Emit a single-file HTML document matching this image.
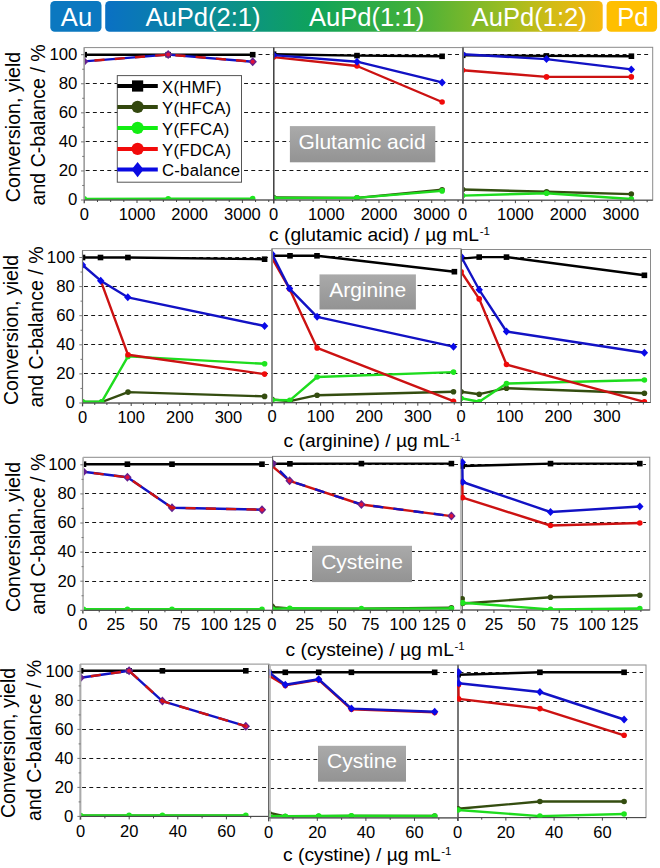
<!DOCTYPE html>
<html><head><meta charset="utf-8"><style>
html,body{margin:0;padding:0;background:#fff;}
svg{display:block;font-family:"Liberation Sans", sans-serif;}
</style></head><body>
<svg width="660" height="868" viewBox="0 0 660 868">
<rect width="660" height="868" fill="#fff"/>
<defs><linearGradient id="hg" x1="0" x2="1" y1="0" y2="0"><stop offset="0" stop-color="#0A70C4"/><stop offset="0.2" stop-color="#0A8A9A"/><stop offset="0.42" stop-color="#0FA35A"/><stop offset="0.6" stop-color="#3DAF3C"/><stop offset="0.8" stop-color="#98BC22"/><stop offset="0.9" stop-color="#D2BB16"/><stop offset="1" stop-color="#F8B80E"/></linearGradient><linearGradient id="gbox" x1="0" x2="0" y1="0" y2="1"><stop offset="0" stop-color="#AAAAAA"/><stop offset="1" stop-color="#939393"/></linearGradient></defs>
<rect x="50.3" y="1" width="51.2" height="30.8" rx="4.5" fill="#0B78C0"/>
<rect x="105.2" y="1" width="497.5" height="30.8" rx="4.5" fill="url(#hg)"/>
<rect x="606.6" y="1" width="50.5" height="30.8" rx="4.5" fill="#FFBF00"/>
<text transform="translate(76.5,25.6) scale(1.0,1)" font-size="25.6" text-anchor="middle" fill="#fff" >Au</text>
<text transform="translate(203,25.6) scale(1.0,1)" font-size="25.6" text-anchor="middle" fill="#fff" >AuPd(2:1)</text>
<text transform="translate(366.6,25.6) scale(1.0,1)" font-size="25.6" text-anchor="middle" fill="#fff" >AuPd(1:1)</text>
<text transform="translate(529.2,25.6) scale(1.0,1)" font-size="25.6" text-anchor="middle" fill="#fff" >AuPd(1:2)</text>
<text transform="translate(632.8,25.6) scale(1.0,1)" font-size="25.6" text-anchor="middle" fill="#fff" >Pd</text>
<line x1="84.2" y1="170.5" x2="273.6" y2="170.5" stroke="#161616" stroke-width="1.15" stroke-dasharray="3.9 3.3" stroke-dashoffset="-1.5"/>
<line x1="84.2" y1="141.5" x2="273.6" y2="141.5" stroke="#161616" stroke-width="1.15" stroke-dasharray="3.9 3.3" stroke-dashoffset="-1.5"/>
<line x1="84.2" y1="112.5" x2="273.6" y2="112.5" stroke="#161616" stroke-width="1.15" stroke-dasharray="3.9 3.3" stroke-dashoffset="-1.5"/>
<line x1="84.2" y1="83.5" x2="273.6" y2="83.5" stroke="#161616" stroke-width="1.15" stroke-dasharray="3.9 3.3" stroke-dashoffset="-1.5"/>
<line x1="84.2" y1="54.5" x2="273.6" y2="54.5" stroke="#161616" stroke-width="1.15" stroke-dasharray="3.9 3.3" stroke-dashoffset="-1.5"/>
<clipPath id="c1"><rect x="84.2" y="47.6" width="189.4" height="152.4"/></clipPath>
<g clip-path="url(#c1)">
<polyline points="84.2,54.7 168.2,54.7 252.7,54.7" fill="none" stroke="#000000" stroke-width="2.4" stroke-linejoin="round"/>
<rect x="81.4" y="51.9" width="5.6" height="5.6" fill="#000"/>
<rect x="165.4" y="51.9" width="5.6" height="5.6" fill="#000"/>
<rect x="249.9" y="51.9" width="5.6" height="5.6" fill="#000"/>
<polyline points="84.2,199.3 168.2,199.3 252.7,199.3" fill="none" stroke="#344D10" stroke-width="2.4" stroke-linejoin="round"/>
<polyline points="84.2,198.9 168.2,198.8 252.7,198.6" fill="none" stroke="#1EDC1E" stroke-width="2.4" stroke-linejoin="round"/>
<circle cx="84.2" cy="198.9" r="2.8" fill="#1EE61E"/>
<circle cx="168.2" cy="198.8" r="2.8" fill="#1EE61E"/>
<circle cx="252.7" cy="198.6" r="2.8" fill="#1EE61E"/>
<polyline points="84.2,61.4 168.2,54.6 252.7,61.7" fill="none" stroke="#1212C4" stroke-width="2.4" stroke-linejoin="round"/>
<path d="M84.2 56.9L88.4 61.4L84.2 65.9L80 61.4Z" fill="#64208e"/>
<path d="M168.2 50.1L172.4 54.6L168.2 59.1L164 54.6Z" fill="#64208e"/>
<circle cx="168.2" cy="54.6" r="2.0" fill="#e0103a"/>
<path d="M252.7 57.2L256.9 61.7L252.7 66.2L248.5 61.7Z" fill="#64208e"/>
<circle cx="252.7" cy="61.7" r="2.0" fill="#e0103a"/>
<polyline points="84.2,61.4 168.2,54.6 252.7,61.7" fill="none" stroke="#CC1212" stroke-width="2.4" stroke-linejoin="round" stroke-dasharray="10.1 10.2" stroke-dashoffset="10"/>
</g>
<rect x="84.2" y="47.6" width="189.4" height="152.4" fill="none" stroke="#8a8a8a" stroke-width="1"/>
<line x1="84.2" y1="47.6" x2="84.2" y2="203.5" stroke="#a0a0a0" stroke-width="1.4"/>
<line x1="84.2" y1="200" x2="273.6" y2="200" stroke="#444" stroke-width="1"/>
<line x1="84.3" y1="200" x2="84.3" y2="203" stroke="#444" stroke-width="1"/>
<line x1="97.47" y1="200" x2="97.47" y2="202" stroke="#444" stroke-width="1"/>
<line x1="110.65" y1="200" x2="110.65" y2="202" stroke="#444" stroke-width="1"/>
<line x1="123.82" y1="200" x2="123.82" y2="202" stroke="#444" stroke-width="1"/>
<line x1="137" y1="200" x2="137" y2="203" stroke="#444" stroke-width="1"/>
<line x1="150.18" y1="200" x2="150.18" y2="202" stroke="#444" stroke-width="1"/>
<line x1="163.35" y1="200" x2="163.35" y2="202" stroke="#444" stroke-width="1"/>
<line x1="176.52" y1="200" x2="176.52" y2="202" stroke="#444" stroke-width="1"/>
<line x1="189.7" y1="200" x2="189.7" y2="203" stroke="#444" stroke-width="1"/>
<line x1="202.88" y1="200" x2="202.88" y2="202" stroke="#444" stroke-width="1"/>
<line x1="216.05" y1="200" x2="216.05" y2="202" stroke="#444" stroke-width="1"/>
<line x1="229.22" y1="200" x2="229.22" y2="202" stroke="#444" stroke-width="1"/>
<line x1="242.4" y1="200" x2="242.4" y2="203" stroke="#444" stroke-width="1"/>
<line x1="255.57" y1="200" x2="255.57" y2="202" stroke="#444" stroke-width="1"/>
<line x1="268.75" y1="200" x2="268.75" y2="202" stroke="#444" stroke-width="1"/>
<text transform="translate(84.3,219.7) scale(1.0,1)" font-size="16.5" text-anchor="middle" fill="#000" >0</text>
<text transform="translate(137,219.7) scale(1.0,1)" font-size="16.5" text-anchor="middle" fill="#000" >1000</text>
<text transform="translate(189.7,219.7) scale(1.0,1)" font-size="16.5" text-anchor="middle" fill="#000" >2000</text>
<text transform="translate(242.4,219.7) scale(1.0,1)" font-size="16.5" text-anchor="middle" fill="#000" >3000</text>
<line x1="81" y1="200" x2="84.2" y2="200" stroke="#777" stroke-width="1"/>
<line x1="82.2" y1="185.47" x2="84.2" y2="185.47" stroke="#777" stroke-width="1"/>
<line x1="81" y1="170.94" x2="84.2" y2="170.94" stroke="#777" stroke-width="1"/>
<line x1="82.2" y1="156.41" x2="84.2" y2="156.41" stroke="#777" stroke-width="1"/>
<line x1="81" y1="141.88" x2="84.2" y2="141.88" stroke="#777" stroke-width="1"/>
<line x1="82.2" y1="127.35" x2="84.2" y2="127.35" stroke="#777" stroke-width="1"/>
<line x1="81" y1="112.82" x2="84.2" y2="112.82" stroke="#777" stroke-width="1"/>
<line x1="82.2" y1="98.29" x2="84.2" y2="98.29" stroke="#777" stroke-width="1"/>
<line x1="81" y1="83.76" x2="84.2" y2="83.76" stroke="#777" stroke-width="1"/>
<line x1="82.2" y1="69.23" x2="84.2" y2="69.23" stroke="#777" stroke-width="1"/>
<line x1="81" y1="54.7" x2="84.2" y2="54.7" stroke="#777" stroke-width="1"/>
<text transform="translate(77.4,205.3) scale(1.0,1)" font-size="16.8" text-anchor="end" fill="#000" >0</text>
<text transform="translate(77.4,176.24) scale(1.0,1)" font-size="16.8" text-anchor="end" fill="#000" >20</text>
<text transform="translate(77.4,147.18) scale(1.0,1)" font-size="16.8" text-anchor="end" fill="#000" >40</text>
<text transform="translate(77.4,118.12) scale(1.0,1)" font-size="16.8" text-anchor="end" fill="#000" >60</text>
<text transform="translate(77.4,89.06) scale(1.0,1)" font-size="16.8" text-anchor="end" fill="#000" >80</text>
<text transform="translate(77.4,60) scale(1.0,1)" font-size="16.8" text-anchor="end" fill="#000" >100</text>
<line x1="273.6" y1="170.5" x2="463" y2="170.5" stroke="#161616" stroke-width="1.15" stroke-dasharray="3.9 3.3" stroke-dashoffset="-1.5"/>
<line x1="273.6" y1="141.5" x2="463" y2="141.5" stroke="#161616" stroke-width="1.15" stroke-dasharray="3.9 3.3" stroke-dashoffset="-1.5"/>
<line x1="273.6" y1="112.5" x2="463" y2="112.5" stroke="#161616" stroke-width="1.15" stroke-dasharray="3.9 3.3" stroke-dashoffset="-1.5"/>
<line x1="273.6" y1="83.5" x2="463" y2="83.5" stroke="#161616" stroke-width="1.15" stroke-dasharray="3.9 3.3" stroke-dashoffset="-1.5"/>
<line x1="273.6" y1="54.5" x2="463" y2="54.5" stroke="#161616" stroke-width="1.15" stroke-dasharray="3.9 3.3" stroke-dashoffset="-1.5"/>
<clipPath id="c2"><rect x="273.6" y="47.6" width="189.4" height="152.4"/></clipPath>
<g clip-path="url(#c2)">
<polyline points="273.6,54.2 357,55.6 442.1,56.3" fill="none" stroke="#000000" stroke-width="2.4" stroke-linejoin="round"/>
<rect x="270.8" y="51.4" width="5.6" height="5.6" fill="#000"/>
<rect x="354.2" y="52.8" width="5.6" height="5.6" fill="#000"/>
<rect x="439.3" y="53.5" width="5.6" height="5.6" fill="#000"/>
<polyline points="273.6,197.5 357,197.9 442.1,189.8" fill="none" stroke="#344D10" stroke-width="2.4" stroke-linejoin="round"/>
<circle cx="273.6" cy="197.5" r="2.8" fill="#344D10"/>
<circle cx="357" cy="197.9" r="2.8" fill="#344D10"/>
<circle cx="442.1" cy="189.8" r="2.8" fill="#344D10"/>
<polyline points="273.6,198 357,197.9 442.1,190.9" fill="none" stroke="#1EDC1E" stroke-width="2.4" stroke-linejoin="round"/>
<circle cx="273.6" cy="198" r="2.8" fill="#1EE61E"/>
<circle cx="357" cy="197.9" r="2.8" fill="#1EE61E"/>
<circle cx="442.1" cy="190.9" r="2.8" fill="#1EE61E"/>
<polyline points="273.6,57.1 357,66 442.1,102" fill="none" stroke="#CC1212" stroke-width="2.4" stroke-linejoin="round"/>
<circle cx="273.6" cy="57.1" r="2.8" fill="#F00A0A"/>
<circle cx="357" cy="66" r="2.8" fill="#F00A0A"/>
<circle cx="442.1" cy="102" r="2.8" fill="#F00A0A"/>
<polyline points="273.6,55.1 357,61.7 442.1,82.4" fill="none" stroke="#1212C4" stroke-width="2.4" stroke-linejoin="round"/>
<path d="M273.6 51.1L277.3 55.1L273.6 59.1L269.9 55.1Z" fill="#0A0AE8"/>
<path d="M357 57.7L360.7 61.7L357 65.7L353.3 61.7Z" fill="#0A0AE8"/>
<path d="M442.1 78.4L445.8 82.4L442.1 86.4L438.4 82.4Z" fill="#0A0AE8"/>
</g>
<rect x="273.6" y="47.6" width="189.4" height="152.4" fill="none" stroke="#8a8a8a" stroke-width="1"/>
<line x1="273.75" y1="47.6" x2="273.75" y2="203.5" stroke="#444" stroke-width="1.5"/>
<line x1="273.6" y1="200" x2="463" y2="200" stroke="#444" stroke-width="1"/>
<line x1="273.6" y1="200" x2="273.6" y2="203" stroke="#444" stroke-width="1"/>
<line x1="286.78" y1="200" x2="286.78" y2="202" stroke="#444" stroke-width="1"/>
<line x1="299.95" y1="200" x2="299.95" y2="202" stroke="#444" stroke-width="1"/>
<line x1="313.12" y1="200" x2="313.12" y2="202" stroke="#444" stroke-width="1"/>
<line x1="326.3" y1="200" x2="326.3" y2="203" stroke="#444" stroke-width="1"/>
<line x1="339.48" y1="200" x2="339.48" y2="202" stroke="#444" stroke-width="1"/>
<line x1="352.65" y1="200" x2="352.65" y2="202" stroke="#444" stroke-width="1"/>
<line x1="365.83" y1="200" x2="365.83" y2="202" stroke="#444" stroke-width="1"/>
<line x1="379" y1="200" x2="379" y2="203" stroke="#444" stroke-width="1"/>
<line x1="392.18" y1="200" x2="392.18" y2="202" stroke="#444" stroke-width="1"/>
<line x1="405.35" y1="200" x2="405.35" y2="202" stroke="#444" stroke-width="1"/>
<line x1="418.52" y1="200" x2="418.52" y2="202" stroke="#444" stroke-width="1"/>
<line x1="431.7" y1="200" x2="431.7" y2="203" stroke="#444" stroke-width="1"/>
<line x1="444.88" y1="200" x2="444.88" y2="202" stroke="#444" stroke-width="1"/>
<line x1="458.05" y1="200" x2="458.05" y2="202" stroke="#444" stroke-width="1"/>
<text transform="translate(273.6,219.7) scale(1.0,1)" font-size="16.5" text-anchor="middle" fill="#000" >0</text>
<text transform="translate(326.3,219.7) scale(1.0,1)" font-size="16.5" text-anchor="middle" fill="#000" >1000</text>
<text transform="translate(379,219.7) scale(1.0,1)" font-size="16.5" text-anchor="middle" fill="#000" >2000</text>
<text transform="translate(431.7,219.7) scale(1.0,1)" font-size="16.5" text-anchor="middle" fill="#000" >3000</text>
<line x1="462.7" y1="171.5" x2="648.5" y2="171.5" stroke="#161616" stroke-width="1.15" stroke-dasharray="3.9 3.3" stroke-dashoffset="-1.5"/>
<line x1="462.7" y1="142.5" x2="648.5" y2="142.5" stroke="#161616" stroke-width="1.15" stroke-dasharray="3.9 3.3" stroke-dashoffset="-1.5"/>
<line x1="462.7" y1="112.5" x2="648.5" y2="112.5" stroke="#161616" stroke-width="1.15" stroke-dasharray="3.9 3.3" stroke-dashoffset="-1.5"/>
<line x1="462.7" y1="83.5" x2="648.5" y2="83.5" stroke="#161616" stroke-width="1.15" stroke-dasharray="3.9 3.3" stroke-dashoffset="-1.5"/>
<line x1="462.7" y1="54.5" x2="648.5" y2="54.5" stroke="#161616" stroke-width="1.15" stroke-dasharray="3.9 3.3" stroke-dashoffset="-1.5"/>
<clipPath id="c3"><rect x="462.7" y="47.3" width="190" height="152.9"/></clipPath>
<g clip-path="url(#c3)">
<polyline points="462.7,55.3 546.4,55.9 631.4,56.2" fill="none" stroke="#000000" stroke-width="2.4" stroke-linejoin="round"/>
<rect x="459.9" y="52.5" width="5.6" height="5.6" fill="#000"/>
<rect x="543.6" y="53.1" width="5.6" height="5.6" fill="#000"/>
<rect x="628.6" y="53.4" width="5.6" height="5.6" fill="#000"/>
<polyline points="462.7,189.5 546.6,191.7 631.3,194.1" fill="none" stroke="#344D10" stroke-width="2.4" stroke-linejoin="round"/>
<circle cx="462.7" cy="189.5" r="2.8" fill="#344D10"/>
<circle cx="546.6" cy="191.7" r="2.8" fill="#344D10"/>
<circle cx="631.3" cy="194.1" r="2.8" fill="#344D10"/>
<polyline points="462.7,195.6 546.6,193.2 631.3,199" fill="none" stroke="#1EDC1E" stroke-width="2.4" stroke-linejoin="round"/>
<circle cx="462.7" cy="195.6" r="2.8" fill="#1EE61E"/>
<circle cx="546.6" cy="193.2" r="2.8" fill="#1EE61E"/>
<circle cx="631.3" cy="199" r="2.8" fill="#1EE61E"/>
<polyline points="462.7,70.2 546.5,76.9 631.3,76.9" fill="none" stroke="#CC1212" stroke-width="2.4" stroke-linejoin="round"/>
<circle cx="462.7" cy="70.2" r="2.8" fill="#F00A0A"/>
<circle cx="546.5" cy="76.9" r="2.8" fill="#F00A0A"/>
<circle cx="631.3" cy="76.9" r="2.8" fill="#F00A0A"/>
<polyline points="462.7,54.3 546.5,59.1 631.3,69.4" fill="none" stroke="#1212C4" stroke-width="2.4" stroke-linejoin="round"/>
<path d="M462.7 50.3L466.4 54.3L462.7 58.3L459 54.3Z" fill="#0A0AE8"/>
<path d="M546.5 55.1L550.2 59.1L546.5 63.1L542.8 59.1Z" fill="#0A0AE8"/>
<path d="M631.3 65.4L635 69.4L631.3 73.4L627.6 69.4Z" fill="#0A0AE8"/>
</g>
<rect x="462.7" y="47.3" width="190" height="152.9" fill="none" stroke="#8a8a8a" stroke-width="1"/>
<line x1="463" y1="47.3" x2="463" y2="203.7" stroke="#6a6a6a" stroke-width="1.8"/>
<line x1="462.7" y1="200.2" x2="652.7" y2="200.2" stroke="#444" stroke-width="1"/>
<line x1="462.7" y1="200.2" x2="462.7" y2="203.2" stroke="#444" stroke-width="1"/>
<line x1="475.88" y1="200.2" x2="475.88" y2="202.2" stroke="#444" stroke-width="1"/>
<line x1="489.05" y1="200.2" x2="489.05" y2="202.2" stroke="#444" stroke-width="1"/>
<line x1="502.22" y1="200.2" x2="502.22" y2="202.2" stroke="#444" stroke-width="1"/>
<line x1="515.4" y1="200.2" x2="515.4" y2="203.2" stroke="#444" stroke-width="1"/>
<line x1="528.58" y1="200.2" x2="528.58" y2="202.2" stroke="#444" stroke-width="1"/>
<line x1="541.75" y1="200.2" x2="541.75" y2="202.2" stroke="#444" stroke-width="1"/>
<line x1="554.92" y1="200.2" x2="554.92" y2="202.2" stroke="#444" stroke-width="1"/>
<line x1="568.1" y1="200.2" x2="568.1" y2="203.2" stroke="#444" stroke-width="1"/>
<line x1="581.27" y1="200.2" x2="581.27" y2="202.2" stroke="#444" stroke-width="1"/>
<line x1="594.45" y1="200.2" x2="594.45" y2="202.2" stroke="#444" stroke-width="1"/>
<line x1="607.62" y1="200.2" x2="607.62" y2="202.2" stroke="#444" stroke-width="1"/>
<line x1="620.8" y1="200.2" x2="620.8" y2="203.2" stroke="#444" stroke-width="1"/>
<line x1="633.97" y1="200.2" x2="633.97" y2="202.2" stroke="#444" stroke-width="1"/>
<line x1="647.15" y1="200.2" x2="647.15" y2="202.2" stroke="#444" stroke-width="1"/>
<text transform="translate(462.7,219.9) scale(1.0,1)" font-size="16.5" text-anchor="middle" fill="#000" >0</text>
<text transform="translate(515.4,219.9) scale(1.0,1)" font-size="16.5" text-anchor="middle" fill="#000" >1000</text>
<text transform="translate(568.1,219.9) scale(1.0,1)" font-size="16.5" text-anchor="middle" fill="#000" >2000</text>
<text transform="translate(620.8,219.9) scale(1.0,1)" font-size="16.5" text-anchor="middle" fill="#000" >3000</text>
<line x1="82.5" y1="373.5" x2="272" y2="373.5" stroke="#161616" stroke-width="1.15" stroke-dasharray="3.9 3.3" stroke-dashoffset="-1.5"/>
<line x1="82.5" y1="344.5" x2="272" y2="344.5" stroke="#161616" stroke-width="1.15" stroke-dasharray="3.9 3.3" stroke-dashoffset="-1.5"/>
<line x1="82.5" y1="315.5" x2="272" y2="315.5" stroke="#161616" stroke-width="1.15" stroke-dasharray="3.9 3.3" stroke-dashoffset="-1.5"/>
<line x1="82.5" y1="286.5" x2="272" y2="286.5" stroke="#161616" stroke-width="1.15" stroke-dasharray="3.9 3.3" stroke-dashoffset="-1.5"/>
<line x1="82.5" y1="257.5" x2="272" y2="257.5" stroke="#161616" stroke-width="1.15" stroke-dasharray="3.9 3.3" stroke-dashoffset="-1.5"/>
<clipPath id="c4"><rect x="82.5" y="250.5" width="189.5" height="152.5"/></clipPath>
<g clip-path="url(#c4)">
<polyline points="82.5,257.5 100.5,257.5 127.9,257.5 264.6,259.2" fill="none" stroke="#000000" stroke-width="2.4" stroke-linejoin="round"/>
<rect x="79.7" y="254.7" width="5.6" height="5.6" fill="#000"/>
<rect x="97.7" y="254.7" width="5.6" height="5.6" fill="#000"/>
<rect x="125.1" y="254.7" width="5.6" height="5.6" fill="#000"/>
<rect x="261.8" y="256.4" width="5.6" height="5.6" fill="#000"/>
<polyline points="82.5,402 101.7,402 128,392.1 264.6,396.4" fill="none" stroke="#344D10" stroke-width="2.4" stroke-linejoin="round"/>
<circle cx="82.5" cy="402" r="2.8" fill="#344D10"/>
<circle cx="101.7" cy="402" r="2.8" fill="#344D10"/>
<circle cx="128" cy="392.1" r="2.8" fill="#344D10"/>
<circle cx="264.6" cy="396.4" r="2.8" fill="#344D10"/>
<polyline points="82.5,401.8 101.7,401.8 128,356.4 264.6,363.8" fill="none" stroke="#1EDC1E" stroke-width="2.4" stroke-linejoin="round"/>
<circle cx="82.5" cy="401.8" r="2.8" fill="#1EE61E"/>
<circle cx="101.7" cy="401.8" r="2.8" fill="#1EE61E"/>
<circle cx="128" cy="356.4" r="2.8" fill="#1EE61E"/>
<circle cx="264.6" cy="363.8" r="2.8" fill="#1EE61E"/>
<polyline points="100.7,280.7 128,354.8 264.6,374.1" fill="none" stroke="#CC1212" stroke-width="2.4" stroke-linejoin="round"/>
<circle cx="128" cy="354.8" r="2.8" fill="#F00A0A"/>
<circle cx="264.6" cy="374.1" r="2.8" fill="#F00A0A"/>
<polyline points="82.5,265 100.7,280.7 127.8,297.3 264.6,326" fill="none" stroke="#1212C4" stroke-width="2.4" stroke-linejoin="round"/>
<path d="M82.5 261L86.2 265L82.5 269L78.8 265Z" fill="#0A0AE8"/>
<path d="M100.7 276.7L104.4 280.7L100.7 284.7L97 280.7Z" fill="#0A0AE8"/>
<path d="M127.8 293.3L131.5 297.3L127.8 301.3L124.1 297.3Z" fill="#0A0AE8"/>
<path d="M264.6 322L268.3 326L264.6 330L260.9 326Z" fill="#0A0AE8"/>
</g>
<rect x="82.5" y="250.5" width="189.5" height="152.5" fill="none" stroke="#8a8a8a" stroke-width="1"/>
<line x1="82.5" y1="250.5" x2="82.5" y2="406.5" stroke="#777" stroke-width="1.2"/>
<line x1="82.5" y1="403" x2="272" y2="403" stroke="#444" stroke-width="1"/>
<line x1="82.6" y1="403" x2="82.6" y2="406" stroke="#444" stroke-width="1"/>
<line x1="94.75" y1="403" x2="94.75" y2="405" stroke="#444" stroke-width="1"/>
<line x1="106.9" y1="403" x2="106.9" y2="405" stroke="#444" stroke-width="1"/>
<line x1="119.05" y1="403" x2="119.05" y2="405" stroke="#444" stroke-width="1"/>
<line x1="131.2" y1="403" x2="131.2" y2="406" stroke="#444" stroke-width="1"/>
<line x1="143.35" y1="403" x2="143.35" y2="405" stroke="#444" stroke-width="1"/>
<line x1="155.5" y1="403" x2="155.5" y2="405" stroke="#444" stroke-width="1"/>
<line x1="167.65" y1="403" x2="167.65" y2="405" stroke="#444" stroke-width="1"/>
<line x1="179.8" y1="403" x2="179.8" y2="406" stroke="#444" stroke-width="1"/>
<line x1="191.95" y1="403" x2="191.95" y2="405" stroke="#444" stroke-width="1"/>
<line x1="204.1" y1="403" x2="204.1" y2="405" stroke="#444" stroke-width="1"/>
<line x1="216.25" y1="403" x2="216.25" y2="405" stroke="#444" stroke-width="1"/>
<line x1="228.4" y1="403" x2="228.4" y2="406" stroke="#444" stroke-width="1"/>
<line x1="240.55" y1="403" x2="240.55" y2="405" stroke="#444" stroke-width="1"/>
<line x1="252.7" y1="403" x2="252.7" y2="405" stroke="#444" stroke-width="1"/>
<line x1="264.85" y1="403" x2="264.85" y2="405" stroke="#444" stroke-width="1"/>
<text transform="translate(82.6,422.7) scale(1.0,1)" font-size="16.5" text-anchor="middle" fill="#000" >0</text>
<text transform="translate(131.2,422.7) scale(1.0,1)" font-size="16.5" text-anchor="middle" fill="#000" >100</text>
<text transform="translate(179.8,422.7) scale(1.0,1)" font-size="16.5" text-anchor="middle" fill="#000" >200</text>
<text transform="translate(228.4,422.7) scale(1.0,1)" font-size="16.5" text-anchor="middle" fill="#000" >300</text>
<line x1="79.3" y1="403" x2="82.5" y2="403" stroke="#777" stroke-width="1"/>
<line x1="80.5" y1="388.45" x2="82.5" y2="388.45" stroke="#777" stroke-width="1"/>
<line x1="79.3" y1="373.9" x2="82.5" y2="373.9" stroke="#777" stroke-width="1"/>
<line x1="80.5" y1="359.35" x2="82.5" y2="359.35" stroke="#777" stroke-width="1"/>
<line x1="79.3" y1="344.8" x2="82.5" y2="344.8" stroke="#777" stroke-width="1"/>
<line x1="80.5" y1="330.25" x2="82.5" y2="330.25" stroke="#777" stroke-width="1"/>
<line x1="79.3" y1="315.7" x2="82.5" y2="315.7" stroke="#777" stroke-width="1"/>
<line x1="80.5" y1="301.15" x2="82.5" y2="301.15" stroke="#777" stroke-width="1"/>
<line x1="79.3" y1="286.6" x2="82.5" y2="286.6" stroke="#777" stroke-width="1"/>
<line x1="80.5" y1="272.05" x2="82.5" y2="272.05" stroke="#777" stroke-width="1"/>
<line x1="79.3" y1="257.5" x2="82.5" y2="257.5" stroke="#777" stroke-width="1"/>
<text transform="translate(74.8,408.3) scale(1.0,1)" font-size="16.8" text-anchor="end" fill="#000" >0</text>
<text transform="translate(74.8,379.2) scale(1.0,1)" font-size="16.8" text-anchor="end" fill="#000" >20</text>
<text transform="translate(74.8,350.1) scale(1.0,1)" font-size="16.8" text-anchor="end" fill="#000" >40</text>
<text transform="translate(74.8,321) scale(1.0,1)" font-size="16.8" text-anchor="end" fill="#000" >60</text>
<text transform="translate(74.8,291.9) scale(1.0,1)" font-size="16.8" text-anchor="end" fill="#000" >80</text>
<text transform="translate(74.8,262.8) scale(1.0,1)" font-size="16.8" text-anchor="end" fill="#000" >100</text>
<line x1="272" y1="373.5" x2="461.1" y2="373.5" stroke="#161616" stroke-width="1.15" stroke-dasharray="3.9 3.3" stroke-dashoffset="-1.5"/>
<line x1="272" y1="344.5" x2="461.1" y2="344.5" stroke="#161616" stroke-width="1.15" stroke-dasharray="3.9 3.3" stroke-dashoffset="-1.5"/>
<line x1="272" y1="314.5" x2="461.1" y2="314.5" stroke="#161616" stroke-width="1.15" stroke-dasharray="3.9 3.3" stroke-dashoffset="-1.5"/>
<line x1="272" y1="285.5" x2="461.1" y2="285.5" stroke="#161616" stroke-width="1.15" stroke-dasharray="3.9 3.3" stroke-dashoffset="-1.5"/>
<line x1="272" y1="256.5" x2="461.1" y2="256.5" stroke="#161616" stroke-width="1.15" stroke-dasharray="3.9 3.3" stroke-dashoffset="-1.5"/>
<clipPath id="c5"><rect x="272" y="248.7" width="189.1" height="154"/></clipPath>
<g clip-path="url(#c5)">
<polyline points="272,255.8 290,255.8 317,255.8 454.4,271.7" fill="none" stroke="#000000" stroke-width="2.4" stroke-linejoin="round"/>
<rect x="269.2" y="253" width="5.6" height="5.6" fill="#000"/>
<rect x="287.2" y="253" width="5.6" height="5.6" fill="#000"/>
<rect x="314.2" y="253" width="5.6" height="5.6" fill="#000"/>
<rect x="451.6" y="268.9" width="5.6" height="5.6" fill="#000"/>
<polyline points="272,399.4 289.8,401.2 317.1,395.2 453.5,391.8" fill="none" stroke="#344D10" stroke-width="2.4" stroke-linejoin="round"/>
<circle cx="272" cy="399.4" r="2.8" fill="#344D10"/>
<circle cx="289.8" cy="401.2" r="2.8" fill="#344D10"/>
<circle cx="317.1" cy="395.2" r="2.8" fill="#344D10"/>
<circle cx="453.5" cy="391.8" r="2.8" fill="#344D10"/>
<polyline points="272,400 289.8,400.3 317.1,377 453.5,372.1" fill="none" stroke="#1EDC1E" stroke-width="2.4" stroke-linejoin="round"/>
<circle cx="272" cy="400" r="2.8" fill="#1EE61E"/>
<circle cx="289.8" cy="400.3" r="2.8" fill="#1EE61E"/>
<circle cx="317.1" cy="377" r="2.8" fill="#1EE61E"/>
<circle cx="453.5" cy="372.1" r="2.8" fill="#1EE61E"/>
<polyline points="272,258 289.6,289 317.1,347.9 453.5,401.2" fill="none" stroke="#CC1212" stroke-width="2.4" stroke-linejoin="round"/>
<circle cx="272" cy="258" r="2.8" fill="#F00A0A"/>
<circle cx="289.6" cy="289" r="2.8" fill="#F00A0A"/>
<circle cx="317.1" cy="347.9" r="2.8" fill="#F00A0A"/>
<circle cx="453.5" cy="401.2" r="2.8" fill="#F00A0A"/>
<polyline points="272,253.9 289.5,288.6 317.1,316.8 453.5,346.7" fill="none" stroke="#1212C4" stroke-width="2.4" stroke-linejoin="round"/>
<path d="M272 249.9L275.7 253.9L272 257.9L268.3 253.9Z" fill="#0A0AE8"/>
<path d="M289.5 284.6L293.2 288.6L289.5 292.6L285.8 288.6Z" fill="#0A0AE8"/>
<path d="M317.1 312.8L320.8 316.8L317.1 320.8L313.4 316.8Z" fill="#0A0AE8"/>
<path d="M453.5 342.7L457.2 346.7L453.5 350.7L449.8 346.7Z" fill="#0A0AE8"/>
</g>
<rect x="272" y="248.7" width="189.1" height="154" fill="none" stroke="#8a8a8a" stroke-width="1"/>
<line x1="272" y1="248.7" x2="272" y2="406.2" stroke="#888" stroke-width="1.8"/>
<line x1="272" y1="402.7" x2="461.1" y2="402.7" stroke="#444" stroke-width="1"/>
<line x1="272" y1="402.7" x2="272" y2="405.7" stroke="#444" stroke-width="1"/>
<line x1="284.15" y1="402.7" x2="284.15" y2="404.7" stroke="#444" stroke-width="1"/>
<line x1="296.3" y1="402.7" x2="296.3" y2="404.7" stroke="#444" stroke-width="1"/>
<line x1="308.45" y1="402.7" x2="308.45" y2="404.7" stroke="#444" stroke-width="1"/>
<line x1="320.6" y1="402.7" x2="320.6" y2="405.7" stroke="#444" stroke-width="1"/>
<line x1="332.75" y1="402.7" x2="332.75" y2="404.7" stroke="#444" stroke-width="1"/>
<line x1="344.9" y1="402.7" x2="344.9" y2="404.7" stroke="#444" stroke-width="1"/>
<line x1="357.05" y1="402.7" x2="357.05" y2="404.7" stroke="#444" stroke-width="1"/>
<line x1="369.2" y1="402.7" x2="369.2" y2="405.7" stroke="#444" stroke-width="1"/>
<line x1="381.35" y1="402.7" x2="381.35" y2="404.7" stroke="#444" stroke-width="1"/>
<line x1="393.5" y1="402.7" x2="393.5" y2="404.7" stroke="#444" stroke-width="1"/>
<line x1="405.65" y1="402.7" x2="405.65" y2="404.7" stroke="#444" stroke-width="1"/>
<line x1="417.8" y1="402.7" x2="417.8" y2="405.7" stroke="#444" stroke-width="1"/>
<line x1="429.95" y1="402.7" x2="429.95" y2="404.7" stroke="#444" stroke-width="1"/>
<line x1="442.1" y1="402.7" x2="442.1" y2="404.7" stroke="#444" stroke-width="1"/>
<line x1="454.25" y1="402.7" x2="454.25" y2="404.7" stroke="#444" stroke-width="1"/>
<text transform="translate(272,422.4) scale(1.0,1)" font-size="16.5" text-anchor="middle" fill="#000" >0</text>
<text transform="translate(320.6,422.4) scale(1.0,1)" font-size="16.5" text-anchor="middle" fill="#000" >100</text>
<text transform="translate(369.2,422.4) scale(1.0,1)" font-size="16.5" text-anchor="middle" fill="#000" >200</text>
<text transform="translate(417.8,422.4) scale(1.0,1)" font-size="16.5" text-anchor="middle" fill="#000" >300</text>
<line x1="461.1" y1="373.5" x2="647" y2="373.5" stroke="#161616" stroke-width="1.15" stroke-dasharray="3.9 3.3" stroke-dashoffset="-1.5"/>
<line x1="461.1" y1="344.5" x2="647" y2="344.5" stroke="#161616" stroke-width="1.15" stroke-dasharray="3.9 3.3" stroke-dashoffset="-1.5"/>
<line x1="461.1" y1="315.5" x2="647" y2="315.5" stroke="#161616" stroke-width="1.15" stroke-dasharray="3.9 3.3" stroke-dashoffset="-1.5"/>
<line x1="461.1" y1="286.5" x2="647" y2="286.5" stroke="#161616" stroke-width="1.15" stroke-dasharray="3.9 3.3" stroke-dashoffset="-1.5"/>
<line x1="461.1" y1="257.5" x2="647" y2="257.5" stroke="#161616" stroke-width="1.15" stroke-dasharray="3.9 3.3" stroke-dashoffset="-1.5"/>
<clipPath id="c6"><rect x="461.1" y="249.5" width="189.4" height="153"/></clipPath>
<g clip-path="url(#c6)">
<polyline points="461.1,258.6 479.2,257.1 506.5,257.1 644.4,275.3" fill="none" stroke="#000000" stroke-width="2.4" stroke-linejoin="round"/>
<rect x="458.3" y="255.8" width="5.6" height="5.6" fill="#000"/>
<rect x="476.4" y="254.3" width="5.6" height="5.6" fill="#000"/>
<rect x="503.7" y="254.3" width="5.6" height="5.6" fill="#000"/>
<rect x="641.6" y="272.5" width="5.6" height="5.6" fill="#000"/>
<polyline points="461.1,391.8 479.2,394.2 506.5,388.2 644.4,393.3" fill="none" stroke="#344D10" stroke-width="2.4" stroke-linejoin="round"/>
<circle cx="461.1" cy="391.8" r="2.8" fill="#344D10"/>
<circle cx="479.2" cy="394.2" r="2.8" fill="#344D10"/>
<circle cx="506.5" cy="388.2" r="2.8" fill="#344D10"/>
<circle cx="644.4" cy="393.3" r="2.8" fill="#344D10"/>
<polyline points="461.1,398.2 479.2,401.8 506.5,383.6 644.4,380" fill="none" stroke="#1EDC1E" stroke-width="2.4" stroke-linejoin="round"/>
<circle cx="461.1" cy="398.2" r="2.8" fill="#1EE61E"/>
<circle cx="479.2" cy="401.8" r="2.8" fill="#1EE61E"/>
<circle cx="506.5" cy="383.6" r="2.8" fill="#1EE61E"/>
<circle cx="644.4" cy="380" r="2.8" fill="#1EE61E"/>
<polyline points="461.1,271.7 479.2,298.9 506.5,364.5 644.4,401.8" fill="none" stroke="#CC1212" stroke-width="2.4" stroke-linejoin="round"/>
<circle cx="461.1" cy="271.7" r="2.8" fill="#F00A0A"/>
<circle cx="479.2" cy="298.9" r="2.8" fill="#F00A0A"/>
<circle cx="506.5" cy="364.5" r="2.8" fill="#F00A0A"/>
<circle cx="644.4" cy="401.8" r="2.8" fill="#F00A0A"/>
<polyline points="461.1,256.5 479.2,289.8 506.5,331.5 644.4,352.7" fill="none" stroke="#1212C4" stroke-width="2.4" stroke-linejoin="round"/>
<path d="M461.1 252.5L464.8 256.5L461.1 260.5L457.4 256.5Z" fill="#0A0AE8"/>
<path d="M479.2 285.8L482.9 289.8L479.2 293.8L475.5 289.8Z" fill="#0A0AE8"/>
<path d="M506.5 327.5L510.2 331.5L506.5 335.5L502.8 331.5Z" fill="#0A0AE8"/>
<path d="M644.4 348.7L648.1 352.7L644.4 356.7L640.7 352.7Z" fill="#0A0AE8"/>
</g>
<rect x="461.1" y="249.5" width="189.4" height="153" fill="none" stroke="#8a8a8a" stroke-width="1"/>
<line x1="461.4" y1="249.5" x2="461.4" y2="406" stroke="#555" stroke-width="1.2"/>
<line x1="461.1" y1="402.5" x2="650.5" y2="402.5" stroke="#444" stroke-width="1"/>
<line x1="461.1" y1="402.5" x2="461.1" y2="405.5" stroke="#444" stroke-width="1"/>
<line x1="473.25" y1="402.5" x2="473.25" y2="404.5" stroke="#444" stroke-width="1"/>
<line x1="485.4" y1="402.5" x2="485.4" y2="404.5" stroke="#444" stroke-width="1"/>
<line x1="497.55" y1="402.5" x2="497.55" y2="404.5" stroke="#444" stroke-width="1"/>
<line x1="509.7" y1="402.5" x2="509.7" y2="405.5" stroke="#444" stroke-width="1"/>
<line x1="521.85" y1="402.5" x2="521.85" y2="404.5" stroke="#444" stroke-width="1"/>
<line x1="534" y1="402.5" x2="534" y2="404.5" stroke="#444" stroke-width="1"/>
<line x1="546.15" y1="402.5" x2="546.15" y2="404.5" stroke="#444" stroke-width="1"/>
<line x1="558.3" y1="402.5" x2="558.3" y2="405.5" stroke="#444" stroke-width="1"/>
<line x1="570.45" y1="402.5" x2="570.45" y2="404.5" stroke="#444" stroke-width="1"/>
<line x1="582.6" y1="402.5" x2="582.6" y2="404.5" stroke="#444" stroke-width="1"/>
<line x1="594.75" y1="402.5" x2="594.75" y2="404.5" stroke="#444" stroke-width="1"/>
<line x1="606.9" y1="402.5" x2="606.9" y2="405.5" stroke="#444" stroke-width="1"/>
<line x1="619.05" y1="402.5" x2="619.05" y2="404.5" stroke="#444" stroke-width="1"/>
<line x1="631.2" y1="402.5" x2="631.2" y2="404.5" stroke="#444" stroke-width="1"/>
<line x1="643.35" y1="402.5" x2="643.35" y2="404.5" stroke="#444" stroke-width="1"/>
<text transform="translate(461.1,422.2) scale(1.0,1)" font-size="16.5" text-anchor="middle" fill="#000" >0</text>
<text transform="translate(509.7,422.2) scale(1.0,1)" font-size="16.5" text-anchor="middle" fill="#000" >100</text>
<text transform="translate(558.3,422.2) scale(1.0,1)" font-size="16.5" text-anchor="middle" fill="#000" >200</text>
<text transform="translate(606.9,422.2) scale(1.0,1)" font-size="16.5" text-anchor="middle" fill="#000" >300</text>
<line x1="83.5" y1="581.5" x2="272.6" y2="581.5" stroke="#161616" stroke-width="1.15" stroke-dasharray="3.9 3.3" stroke-dashoffset="-1.5"/>
<line x1="83.5" y1="552.5" x2="272.6" y2="552.5" stroke="#161616" stroke-width="1.15" stroke-dasharray="3.9 3.3" stroke-dashoffset="-1.5"/>
<line x1="83.5" y1="522.5" x2="272.6" y2="522.5" stroke="#161616" stroke-width="1.15" stroke-dasharray="3.9 3.3" stroke-dashoffset="-1.5"/>
<line x1="83.5" y1="493.5" x2="272.6" y2="493.5" stroke="#161616" stroke-width="1.15" stroke-dasharray="3.9 3.3" stroke-dashoffset="-1.5"/>
<line x1="83.5" y1="464.5" x2="272.6" y2="464.5" stroke="#161616" stroke-width="1.15" stroke-dasharray="3.9 3.3" stroke-dashoffset="-1.5"/>
<clipPath id="c7"><rect x="83.5" y="457.3" width="189.1" height="153"/></clipPath>
<g clip-path="url(#c7)">
<polyline points="83.5,464.2 127.4,464.2 172,464.2 262,464.2" fill="none" stroke="#000000" stroke-width="2.4" stroke-linejoin="round"/>
<rect x="80.7" y="461.4" width="5.6" height="5.6" fill="#000"/>
<rect x="124.6" y="461.4" width="5.6" height="5.6" fill="#000"/>
<rect x="169.2" y="461.4" width="5.6" height="5.6" fill="#000"/>
<rect x="259.2" y="461.4" width="5.6" height="5.6" fill="#000"/>
<polyline points="83.5,609.5 127.4,609.5 172,609.5 262,609.5" fill="none" stroke="#344D10" stroke-width="2.4" stroke-linejoin="round"/>
<polyline points="83.5,609.3 127.4,609.2 172,609.2 262,609.2" fill="none" stroke="#1EDC1E" stroke-width="2.4" stroke-linejoin="round"/>
<circle cx="83.5" cy="609.3" r="2.8" fill="#1EE61E"/>
<circle cx="127.4" cy="609.2" r="2.8" fill="#1EE61E"/>
<circle cx="172" cy="609.2" r="2.8" fill="#1EE61E"/>
<circle cx="262" cy="609.2" r="2.8" fill="#1EE61E"/>
<polyline points="83.5,471.8 127.4,477.3 172,507.8 262,509.7" fill="none" stroke="#1212C4" stroke-width="2.4" stroke-linejoin="round"/>
<path d="M83.5 467.3L87.7 471.8L83.5 476.3L79.3 471.8Z" fill="#64208e"/>
<path d="M127.4 472.8L131.6 477.3L127.4 481.8L123.2 477.3Z" fill="#64208e"/>
<circle cx="127.4" cy="477.3" r="2.0" fill="#e0103a"/>
<path d="M172 503.3L176.2 507.8L172 512.3L167.8 507.8Z" fill="#64208e"/>
<circle cx="172" cy="507.8" r="2.0" fill="#e0103a"/>
<path d="M262 505.2L266.2 509.7L262 514.2L257.8 509.7Z" fill="#64208e"/>
<circle cx="262" cy="509.7" r="2.0" fill="#e0103a"/>
<polyline points="83.5,471.8 127.4,477.3 172,507.8 262,509.7" fill="none" stroke="#CC1212" stroke-width="2.4" stroke-linejoin="round" stroke-dasharray="10.1 10.2" stroke-dashoffset="10"/>
</g>
<rect x="83.5" y="457.3" width="189.1" height="153" fill="none" stroke="#8a8a8a" stroke-width="1"/>
<line x1="83" y1="457.3" x2="83" y2="613.8" stroke="#bbb" stroke-width="1.8"/>
<line x1="83.5" y1="610.3" x2="272.6" y2="610.3" stroke="#444" stroke-width="1"/>
<line x1="82.8" y1="610.3" x2="82.8" y2="613.3" stroke="#444" stroke-width="1"/>
<line x1="99.22" y1="610.3" x2="99.22" y2="612.3" stroke="#444" stroke-width="1"/>
<line x1="115.65" y1="610.3" x2="115.65" y2="613.3" stroke="#444" stroke-width="1"/>
<line x1="132.07" y1="610.3" x2="132.07" y2="612.3" stroke="#444" stroke-width="1"/>
<line x1="148.5" y1="610.3" x2="148.5" y2="613.3" stroke="#444" stroke-width="1"/>
<line x1="164.93" y1="610.3" x2="164.93" y2="612.3" stroke="#444" stroke-width="1"/>
<line x1="181.35" y1="610.3" x2="181.35" y2="613.3" stroke="#444" stroke-width="1"/>
<line x1="197.78" y1="610.3" x2="197.78" y2="612.3" stroke="#444" stroke-width="1"/>
<line x1="214.2" y1="610.3" x2="214.2" y2="613.3" stroke="#444" stroke-width="1"/>
<line x1="230.62" y1="610.3" x2="230.62" y2="612.3" stroke="#444" stroke-width="1"/>
<line x1="247.05" y1="610.3" x2="247.05" y2="613.3" stroke="#444" stroke-width="1"/>
<line x1="263.48" y1="610.3" x2="263.48" y2="612.3" stroke="#444" stroke-width="1"/>
<text transform="translate(82.8,630) scale(1.0,1)" font-size="16.5" text-anchor="middle" fill="#000" >0</text>
<text transform="translate(115.65,630) scale(1.0,1)" font-size="16.5" text-anchor="middle" fill="#000" >25</text>
<text transform="translate(148.5,630) scale(1.0,1)" font-size="16.5" text-anchor="middle" fill="#000" >50</text>
<text transform="translate(181.35,630) scale(1.0,1)" font-size="16.5" text-anchor="middle" fill="#000" >75</text>
<text transform="translate(214.2,630) scale(1.0,1)" font-size="16.5" text-anchor="middle" fill="#000" >100</text>
<text transform="translate(247.05,630) scale(1.0,1)" font-size="16.5" text-anchor="middle" fill="#000" >125</text>
<line x1="80.3" y1="610.3" x2="83.5" y2="610.3" stroke="#777" stroke-width="1"/>
<line x1="81.5" y1="595.75" x2="83.5" y2="595.75" stroke="#777" stroke-width="1"/>
<line x1="80.3" y1="581.2" x2="83.5" y2="581.2" stroke="#777" stroke-width="1"/>
<line x1="81.5" y1="566.65" x2="83.5" y2="566.65" stroke="#777" stroke-width="1"/>
<line x1="80.3" y1="552.1" x2="83.5" y2="552.1" stroke="#777" stroke-width="1"/>
<line x1="81.5" y1="537.55" x2="83.5" y2="537.55" stroke="#777" stroke-width="1"/>
<line x1="80.3" y1="523" x2="83.5" y2="523" stroke="#777" stroke-width="1"/>
<line x1="81.5" y1="508.45" x2="83.5" y2="508.45" stroke="#777" stroke-width="1"/>
<line x1="80.3" y1="493.9" x2="83.5" y2="493.9" stroke="#777" stroke-width="1"/>
<line x1="81.5" y1="479.35" x2="83.5" y2="479.35" stroke="#777" stroke-width="1"/>
<line x1="80.3" y1="464.8" x2="83.5" y2="464.8" stroke="#777" stroke-width="1"/>
<text transform="translate(76.2,615.6) scale(1.0,1)" font-size="16.8" text-anchor="end" fill="#000" >0</text>
<text transform="translate(76.2,586.5) scale(1.0,1)" font-size="16.8" text-anchor="end" fill="#000" >20</text>
<text transform="translate(76.2,557.4) scale(1.0,1)" font-size="16.8" text-anchor="end" fill="#000" >40</text>
<text transform="translate(76.2,528.3) scale(1.0,1)" font-size="16.8" text-anchor="end" fill="#000" >60</text>
<text transform="translate(76.2,499.2) scale(1.0,1)" font-size="16.8" text-anchor="end" fill="#000" >80</text>
<text transform="translate(76.2,470.1) scale(1.0,1)" font-size="16.8" text-anchor="end" fill="#000" >100</text>
<line x1="272.6" y1="580.5" x2="461.7" y2="580.5" stroke="#161616" stroke-width="1.15" stroke-dasharray="3.9 3.3" stroke-dashoffset="-1.5"/>
<line x1="272.6" y1="551.5" x2="461.7" y2="551.5" stroke="#161616" stroke-width="1.15" stroke-dasharray="3.9 3.3" stroke-dashoffset="-1.5"/>
<line x1="272.6" y1="522.5" x2="461.7" y2="522.5" stroke="#161616" stroke-width="1.15" stroke-dasharray="3.9 3.3" stroke-dashoffset="-1.5"/>
<line x1="272.6" y1="493.5" x2="461.7" y2="493.5" stroke="#161616" stroke-width="1.15" stroke-dasharray="3.9 3.3" stroke-dashoffset="-1.5"/>
<line x1="272.6" y1="464.5" x2="461.7" y2="464.5" stroke="#161616" stroke-width="1.15" stroke-dasharray="3.9 3.3" stroke-dashoffset="-1.5"/>
<clipPath id="c8"><rect x="272.6" y="456.4" width="189.1" height="153.9"/></clipPath>
<g clip-path="url(#c8)">
<polyline points="272.6,463.8 289.9,463.8 361.4,463.6 451.4,463.6" fill="none" stroke="#000000" stroke-width="2.4" stroke-linejoin="round"/>
<rect x="269.8" y="461" width="5.6" height="5.6" fill="#000"/>
<rect x="287.1" y="461" width="5.6" height="5.6" fill="#000"/>
<rect x="358.6" y="460.8" width="5.6" height="5.6" fill="#000"/>
<rect x="448.6" y="460.8" width="5.6" height="5.6" fill="#000"/>
<polyline points="272.6,604.3 274.8,607.3 289.8,608.4 361.4,608.8 451.4,607.8" fill="none" stroke="#344D10" stroke-width="2.4" stroke-linejoin="round"/>
<circle cx="451.4" cy="607.8" r="2.8" fill="#344D10"/>
<polyline points="272.6,609 289.8,608.3 361.4,608.6 451.4,608.5" fill="none" stroke="#1EDC1E" stroke-width="2.4" stroke-linejoin="round"/>
<circle cx="272.6" cy="609" r="2.8" fill="#1EE61E"/>
<circle cx="289.8" cy="608.3" r="2.8" fill="#1EE61E"/>
<circle cx="361.4" cy="608.6" r="2.8" fill="#1EE61E"/>
<circle cx="451.4" cy="608.5" r="2.8" fill="#1EE61E"/>
<polyline points="272.6,466.5 289.6,480.8 361.4,504.5 451.4,516.1" fill="none" stroke="#CC1212" stroke-width="2.4" stroke-linejoin="round"/>
<polyline points="272.6,463.5 289.6,480.8 361.4,504.5 451.4,516.1" fill="none" stroke="#1212C4" stroke-width="2.4" stroke-linejoin="round" stroke-dasharray="10.1 10.2" stroke-dashoffset="10"/>
<path d="M272.6 459L276.8 463.5L272.6 468L268.4 463.5Z" fill="#64208e"/>
<path d="M289.6 476.3L293.8 480.8L289.6 485.3L285.4 480.8Z" fill="#64208e"/>
<circle cx="289.6" cy="480.8" r="2.0" fill="#e0103a"/>
<path d="M361.4 500L365.6 504.5L361.4 509L357.2 504.5Z" fill="#64208e"/>
<circle cx="361.4" cy="504.5" r="2.0" fill="#e0103a"/>
<path d="M451.4 511.6L455.6 516.1L451.4 520.6L447.2 516.1Z" fill="#64208e"/>
<circle cx="451.4" cy="516.1" r="2.0" fill="#e0103a"/>
</g>
<rect x="272.6" y="456.4" width="189.1" height="153.9" fill="none" stroke="#8a8a8a" stroke-width="1"/>
<line x1="272.5" y1="456.4" x2="272.5" y2="613.8" stroke="#666" stroke-width="1.0"/>
<line x1="272.6" y1="610.3" x2="461.7" y2="610.3" stroke="#444" stroke-width="1"/>
<line x1="271.8" y1="610.3" x2="271.8" y2="613.3" stroke="#444" stroke-width="1"/>
<line x1="288.23" y1="610.3" x2="288.23" y2="612.3" stroke="#444" stroke-width="1"/>
<line x1="304.65" y1="610.3" x2="304.65" y2="613.3" stroke="#444" stroke-width="1"/>
<line x1="321.08" y1="610.3" x2="321.08" y2="612.3" stroke="#444" stroke-width="1"/>
<line x1="337.5" y1="610.3" x2="337.5" y2="613.3" stroke="#444" stroke-width="1"/>
<line x1="353.93" y1="610.3" x2="353.93" y2="612.3" stroke="#444" stroke-width="1"/>
<line x1="370.35" y1="610.3" x2="370.35" y2="613.3" stroke="#444" stroke-width="1"/>
<line x1="386.78" y1="610.3" x2="386.78" y2="612.3" stroke="#444" stroke-width="1"/>
<line x1="403.2" y1="610.3" x2="403.2" y2="613.3" stroke="#444" stroke-width="1"/>
<line x1="419.62" y1="610.3" x2="419.62" y2="612.3" stroke="#444" stroke-width="1"/>
<line x1="436.05" y1="610.3" x2="436.05" y2="613.3" stroke="#444" stroke-width="1"/>
<line x1="452.48" y1="610.3" x2="452.48" y2="612.3" stroke="#444" stroke-width="1"/>
<text transform="translate(271.8,630) scale(1.0,1)" font-size="16.5" text-anchor="middle" fill="#000" >0</text>
<text transform="translate(304.65,630) scale(1.0,1)" font-size="16.5" text-anchor="middle" fill="#000" >25</text>
<text transform="translate(337.5,630) scale(1.0,1)" font-size="16.5" text-anchor="middle" fill="#000" >50</text>
<text transform="translate(370.35,630) scale(1.0,1)" font-size="16.5" text-anchor="middle" fill="#000" >75</text>
<text transform="translate(403.2,630) scale(1.0,1)" font-size="16.5" text-anchor="middle" fill="#000" >100</text>
<text transform="translate(436.05,630) scale(1.0,1)" font-size="16.5" text-anchor="middle" fill="#000" >125</text>
<line x1="461.7" y1="580.5" x2="646" y2="580.5" stroke="#161616" stroke-width="1.15" stroke-dasharray="3.9 3.3" stroke-dashoffset="-1.5"/>
<line x1="461.7" y1="551.5" x2="646" y2="551.5" stroke="#161616" stroke-width="1.15" stroke-dasharray="3.9 3.3" stroke-dashoffset="-1.5"/>
<line x1="461.7" y1="522.5" x2="646" y2="522.5" stroke="#161616" stroke-width="1.15" stroke-dasharray="3.9 3.3" stroke-dashoffset="-1.5"/>
<line x1="461.7" y1="493.5" x2="646" y2="493.5" stroke="#161616" stroke-width="1.15" stroke-dasharray="3.9 3.3" stroke-dashoffset="-1.5"/>
<line x1="461.7" y1="464.5" x2="646" y2="464.5" stroke="#161616" stroke-width="1.15" stroke-dasharray="3.9 3.3" stroke-dashoffset="-1.5"/>
<rect x="461.7" y="457.2" width="188.1" height="152.8" fill="none" stroke="#8a8a8a" stroke-width="1"/>
<line x1="461" y1="457.2" x2="461" y2="613.5" stroke="#bbb" stroke-width="2.1"/>
<line x1="462.5" y1="457.2" x2="462.5" y2="613.5" stroke="#777" stroke-width="1"/>
<line x1="461.7" y1="610" x2="649.8" y2="610" stroke="#444" stroke-width="1"/>
<clipPath id="c9"><rect x="460.7" y="457.2" width="189.1" height="152.8"/></clipPath>
<g clip-path="url(#c9)">
<polyline points="462.2,466 550.5,463.6 639.8,463.6" fill="none" stroke="#000000" stroke-width="2.4" stroke-linejoin="round"/>
<rect x="459.4" y="463.2" width="5.6" height="5.6" fill="#000"/>
<rect x="547.7" y="460.8" width="5.6" height="5.6" fill="#000"/>
<rect x="637" y="460.8" width="5.6" height="5.6" fill="#000"/>
<polyline points="462.2,598.8 462.6,603.5 550.5,597.3 639.8,595.2" fill="none" stroke="#344D10" stroke-width="2.4" stroke-linejoin="round"/>
<circle cx="462.2" cy="598.8" r="2.8" fill="#344D10"/>
<circle cx="462.6" cy="603.5" r="2.8" fill="#344D10"/>
<circle cx="550.5" cy="597.3" r="2.8" fill="#344D10"/>
<circle cx="639.8" cy="595.2" r="2.8" fill="#344D10"/>
<polyline points="462.2,602.7 462.6,602.7 550.5,609.4 639.8,608.5" fill="none" stroke="#1EDC1E" stroke-width="2.4" stroke-linejoin="round"/>
<circle cx="462.2" cy="602.7" r="2.8" fill="#1EE61E"/>
<circle cx="462.6" cy="602.7" r="2.8" fill="#1EE61E"/>
<circle cx="550.5" cy="609.4" r="2.8" fill="#1EE61E"/>
<circle cx="639.8" cy="608.5" r="2.8" fill="#1EE61E"/>
<polyline points="462.3,482 462.6,497.6 550.5,525.5 639.8,523" fill="none" stroke="#CC1212" stroke-width="2.4" stroke-linejoin="round"/>
<circle cx="462.3" cy="482" r="2.8" fill="#F00A0A"/>
<circle cx="462.6" cy="497.6" r="2.8" fill="#F00A0A"/>
<circle cx="550.5" cy="525.5" r="2.8" fill="#F00A0A"/>
<circle cx="639.8" cy="523" r="2.8" fill="#F00A0A"/>
<polyline points="462.3,462.3 462.6,482 550.5,512 639.8,506.5" fill="none" stroke="#1212C4" stroke-width="2.4" stroke-linejoin="round"/>
<path d="M462.3 458.3L466 462.3L462.3 466.3L458.6 462.3Z" fill="#0A0AE8"/>
<path d="M462.6 478L466.3 482L462.6 486L458.9 482Z" fill="#0A0AE8"/>
<path d="M550.5 508L554.2 512L550.5 516L546.8 512Z" fill="#0A0AE8"/>
<path d="M639.8 502.5L643.5 506.5L639.8 510.5L636.1 506.5Z" fill="#0A0AE8"/>
</g>
<line x1="461.3" y1="610" x2="461.3" y2="613" stroke="#444" stroke-width="1"/>
<line x1="477.62" y1="610" x2="477.62" y2="612" stroke="#444" stroke-width="1"/>
<line x1="493.95" y1="610" x2="493.95" y2="613" stroke="#444" stroke-width="1"/>
<line x1="510.28" y1="610" x2="510.28" y2="612" stroke="#444" stroke-width="1"/>
<line x1="526.6" y1="610" x2="526.6" y2="613" stroke="#444" stroke-width="1"/>
<line x1="542.92" y1="610" x2="542.92" y2="612" stroke="#444" stroke-width="1"/>
<line x1="559.25" y1="610" x2="559.25" y2="613" stroke="#444" stroke-width="1"/>
<line x1="575.58" y1="610" x2="575.58" y2="612" stroke="#444" stroke-width="1"/>
<line x1="591.9" y1="610" x2="591.9" y2="613" stroke="#444" stroke-width="1"/>
<line x1="608.23" y1="610" x2="608.23" y2="612" stroke="#444" stroke-width="1"/>
<line x1="624.55" y1="610" x2="624.55" y2="613" stroke="#444" stroke-width="1"/>
<line x1="640.88" y1="610" x2="640.88" y2="612" stroke="#444" stroke-width="1"/>
<text transform="translate(461.3,629.7) scale(1.0,1)" font-size="16.5" text-anchor="middle" fill="#000" >0</text>
<text transform="translate(493.95,629.7) scale(1.0,1)" font-size="16.5" text-anchor="middle" fill="#000" >25</text>
<text transform="translate(526.6,629.7) scale(1.0,1)" font-size="16.5" text-anchor="middle" fill="#000" >50</text>
<text transform="translate(559.25,629.7) scale(1.0,1)" font-size="16.5" text-anchor="middle" fill="#000" >75</text>
<text transform="translate(591.9,629.7) scale(1.0,1)" font-size="16.5" text-anchor="middle" fill="#000" >100</text>
<text transform="translate(624.55,629.7) scale(1.0,1)" font-size="16.5" text-anchor="middle" fill="#000" >125</text>
<line x1="80.6" y1="787.5" x2="269" y2="787.5" stroke="#161616" stroke-width="1.15" stroke-dasharray="3.9 3.3" stroke-dashoffset="-1.5"/>
<line x1="80.6" y1="758.5" x2="269" y2="758.5" stroke="#161616" stroke-width="1.15" stroke-dasharray="3.9 3.3" stroke-dashoffset="-1.5"/>
<line x1="80.6" y1="729.5" x2="269" y2="729.5" stroke="#161616" stroke-width="1.15" stroke-dasharray="3.9 3.3" stroke-dashoffset="-1.5"/>
<line x1="80.6" y1="700.5" x2="269" y2="700.5" stroke="#161616" stroke-width="1.15" stroke-dasharray="3.9 3.3" stroke-dashoffset="-1.5"/>
<line x1="80.6" y1="671.5" x2="269" y2="671.5" stroke="#161616" stroke-width="1.15" stroke-dasharray="3.9 3.3" stroke-dashoffset="-1.5"/>
<clipPath id="c10"><rect x="80.6" y="664.1" width="188.4" height="152.3"/></clipPath>
<g clip-path="url(#c10)">
<polyline points="80.6,670.8 129.1,670.8 162.4,670.8 245.8,670.8" fill="none" stroke="#000000" stroke-width="2.4" stroke-linejoin="round"/>
<rect x="77.8" y="668" width="5.6" height="5.6" fill="#000"/>
<rect x="126.3" y="668" width="5.6" height="5.6" fill="#000"/>
<rect x="159.6" y="668" width="5.6" height="5.6" fill="#000"/>
<rect x="243" y="668" width="5.6" height="5.6" fill="#000"/>
<polyline points="80.6,815.7 129.1,815.7 162.4,815.7 245.8,815.7" fill="none" stroke="#344D10" stroke-width="2.4" stroke-linejoin="round"/>
<polyline points="80.6,815.5 129.1,815.4 162.4,815.4 245.8,815.4" fill="none" stroke="#1EDC1E" stroke-width="2.4" stroke-linejoin="round"/>
<circle cx="80.6" cy="815.5" r="2.8" fill="#1EE61E"/>
<circle cx="129.1" cy="815.4" r="2.8" fill="#1EE61E"/>
<circle cx="162.4" cy="815.4" r="2.8" fill="#1EE61E"/>
<circle cx="245.8" cy="815.4" r="2.8" fill="#1EE61E"/>
<polyline points="80.6,677.7 129.1,670.8 162.4,701.1 245.8,726.2" fill="none" stroke="#1212C4" stroke-width="2.4" stroke-linejoin="round"/>
<path d="M80.6 673.2L84.8 677.7L80.6 682.2L76.4 677.7Z" fill="#64208e"/>
<path d="M129.1 666.3L133.3 670.8L129.1 675.3L124.9 670.8Z" fill="#64208e"/>
<circle cx="129.1" cy="670.8" r="2.0" fill="#e0103a"/>
<path d="M162.4 696.6L166.6 701.1L162.4 705.6L158.2 701.1Z" fill="#64208e"/>
<circle cx="162.4" cy="701.1" r="2.0" fill="#e0103a"/>
<path d="M245.8 721.7L250 726.2L245.8 730.7L241.6 726.2Z" fill="#64208e"/>
<circle cx="245.8" cy="726.2" r="2.0" fill="#e0103a"/>
<polyline points="80.6,677.7 129.1,670.8 162.4,701.1 245.8,726.2" fill="none" stroke="#CC1212" stroke-width="2.4" stroke-linejoin="round" stroke-dasharray="10.1 10.2" stroke-dashoffset="10"/>
</g>
<rect x="80.6" y="664.1" width="188.4" height="152.3" fill="none" stroke="#8a8a8a" stroke-width="1"/>
<line x1="80.3" y1="664.1" x2="80.3" y2="819.9" stroke="#aaa" stroke-width="2"/>
<line x1="80.6" y1="816.4" x2="269" y2="816.4" stroke="#444" stroke-width="1"/>
<line x1="80.6" y1="816.4" x2="80.6" y2="819.4" stroke="#444" stroke-width="1"/>
<line x1="104.9" y1="816.4" x2="104.9" y2="818.4" stroke="#444" stroke-width="1"/>
<line x1="129.2" y1="816.4" x2="129.2" y2="819.4" stroke="#444" stroke-width="1"/>
<line x1="153.5" y1="816.4" x2="153.5" y2="818.4" stroke="#444" stroke-width="1"/>
<line x1="177.8" y1="816.4" x2="177.8" y2="819.4" stroke="#444" stroke-width="1"/>
<line x1="202.1" y1="816.4" x2="202.1" y2="818.4" stroke="#444" stroke-width="1"/>
<line x1="226.4" y1="816.4" x2="226.4" y2="819.4" stroke="#444" stroke-width="1"/>
<line x1="250.7" y1="816.4" x2="250.7" y2="818.4" stroke="#444" stroke-width="1"/>
<text transform="translate(80.6,837.1) scale(1.0,1)" font-size="16.5" text-anchor="middle" fill="#000" >0</text>
<text transform="translate(129.2,837.1) scale(1.0,1)" font-size="16.5" text-anchor="middle" fill="#000" >20</text>
<text transform="translate(177.8,837.1) scale(1.0,1)" font-size="16.5" text-anchor="middle" fill="#000" >40</text>
<text transform="translate(226.4,837.1) scale(1.0,1)" font-size="16.5" text-anchor="middle" fill="#000" >60</text>
<line x1="77.4" y1="816.4" x2="80.6" y2="816.4" stroke="#777" stroke-width="1"/>
<line x1="78.6" y1="801.9" x2="80.6" y2="801.9" stroke="#777" stroke-width="1"/>
<line x1="77.4" y1="787.4" x2="80.6" y2="787.4" stroke="#777" stroke-width="1"/>
<line x1="78.6" y1="772.9" x2="80.6" y2="772.9" stroke="#777" stroke-width="1"/>
<line x1="77.4" y1="758.4" x2="80.6" y2="758.4" stroke="#777" stroke-width="1"/>
<line x1="78.6" y1="743.9" x2="80.6" y2="743.9" stroke="#777" stroke-width="1"/>
<line x1="77.4" y1="729.4" x2="80.6" y2="729.4" stroke="#777" stroke-width="1"/>
<line x1="78.6" y1="714.9" x2="80.6" y2="714.9" stroke="#777" stroke-width="1"/>
<line x1="77.4" y1="700.4" x2="80.6" y2="700.4" stroke="#777" stroke-width="1"/>
<line x1="78.6" y1="685.9" x2="80.6" y2="685.9" stroke="#777" stroke-width="1"/>
<line x1="77.4" y1="671.4" x2="80.6" y2="671.4" stroke="#777" stroke-width="1"/>
<text transform="translate(73.4,821.7) scale(1.0,1)" font-size="16.8" text-anchor="end" fill="#000" >0</text>
<text transform="translate(73.4,792.7) scale(1.0,1)" font-size="16.8" text-anchor="end" fill="#000" >20</text>
<text transform="translate(73.4,763.7) scale(1.0,1)" font-size="16.8" text-anchor="end" fill="#000" >40</text>
<text transform="translate(73.4,734.7) scale(1.0,1)" font-size="16.8" text-anchor="end" fill="#000" >60</text>
<text transform="translate(73.4,705.7) scale(1.0,1)" font-size="16.8" text-anchor="end" fill="#000" >80</text>
<text transform="translate(73.4,676.7) scale(1.0,1)" font-size="16.8" text-anchor="end" fill="#000" >100</text>
<line x1="268.7" y1="788.5" x2="458.1" y2="788.5" stroke="#161616" stroke-width="1.15" stroke-dasharray="3.9 3.3" stroke-dashoffset="-1.5"/>
<line x1="268.7" y1="759.5" x2="458.1" y2="759.5" stroke="#161616" stroke-width="1.15" stroke-dasharray="3.9 3.3" stroke-dashoffset="-1.5"/>
<line x1="268.7" y1="730.5" x2="458.1" y2="730.5" stroke="#161616" stroke-width="1.15" stroke-dasharray="3.9 3.3" stroke-dashoffset="-1.5"/>
<line x1="268.7" y1="701.5" x2="458.1" y2="701.5" stroke="#161616" stroke-width="1.15" stroke-dasharray="3.9 3.3" stroke-dashoffset="-1.5"/>
<line x1="268.7" y1="672.5" x2="458.1" y2="672.5" stroke="#161616" stroke-width="1.15" stroke-dasharray="3.9 3.3" stroke-dashoffset="-1.5"/>
<clipPath id="c11"><rect x="268.7" y="665" width="189.4" height="152.9"/></clipPath>
<g clip-path="url(#c11)">
<polyline points="268.7,672.3 285.3,672.3 318.7,672.3 351.4,672.3 434.7,672.3" fill="none" stroke="#000000" stroke-width="2.4" stroke-linejoin="round"/>
<rect x="265.9" y="669.5" width="5.6" height="5.6" fill="#000"/>
<rect x="282.5" y="669.5" width="5.6" height="5.6" fill="#000"/>
<rect x="315.9" y="669.5" width="5.6" height="5.6" fill="#000"/>
<rect x="348.6" y="669.5" width="5.6" height="5.6" fill="#000"/>
<rect x="431.9" y="669.5" width="5.6" height="5.6" fill="#000"/>
<polyline points="268.7,812.7 285.3,816.5 318.7,816.3 351.4,816 434.7,816" fill="none" stroke="#344D10" stroke-width="2.4" stroke-linejoin="round"/>
<circle cx="268.7" cy="812.7" r="2.8" fill="#344D10"/>
<circle cx="285.3" cy="816.5" r="2.8" fill="#344D10"/>
<circle cx="318.7" cy="816.3" r="2.8" fill="#344D10"/>
<circle cx="351.4" cy="816" r="2.8" fill="#344D10"/>
<circle cx="434.7" cy="816" r="2.8" fill="#344D10"/>
<polyline points="268.7,816 285.3,816.3 318.7,816 351.4,815.8 434.7,816" fill="none" stroke="#1EDC1E" stroke-width="2.4" stroke-linejoin="round"/>
<circle cx="268.7" cy="816" r="2.8" fill="#1EE61E"/>
<circle cx="285.3" cy="816.3" r="2.8" fill="#1EE61E"/>
<circle cx="318.7" cy="816" r="2.8" fill="#1EE61E"/>
<circle cx="351.4" cy="815.8" r="2.8" fill="#1EE61E"/>
<circle cx="434.7" cy="816" r="2.8" fill="#1EE61E"/>
<polyline points="268.7,675.5 285.3,685.4 318.7,679.9 351.4,709.3 434.7,712.4" fill="none" stroke="#CC1212" stroke-width="2.4" stroke-linejoin="round"/>
<circle cx="268.7" cy="675.5" r="2.8" fill="#F00A0A"/>
<circle cx="285.3" cy="685.4" r="2.8" fill="#F00A0A"/>
<circle cx="318.7" cy="679.9" r="2.8" fill="#F00A0A"/>
<circle cx="351.4" cy="709.3" r="2.8" fill="#F00A0A"/>
<circle cx="434.7" cy="712.4" r="2.8" fill="#F00A0A"/>
<polyline points="268.7,672.3 285.3,684.7 318.7,679.2 351.4,708.6 434.7,711.7" fill="none" stroke="#1212C4" stroke-width="2.4" stroke-linejoin="round"/>
<path d="M268.7 668.3L272.4 672.3L268.7 676.3L265 672.3Z" fill="#0A0AE8"/>
<path d="M285.3 680.7L289 684.7L285.3 688.7L281.6 684.7Z" fill="#0A0AE8"/>
<path d="M318.7 675.2L322.4 679.2L318.7 683.2L315 679.2Z" fill="#0A0AE8"/>
<path d="M351.4 704.6L355.1 708.6L351.4 712.6L347.7 708.6Z" fill="#0A0AE8"/>
<path d="M434.7 707.7L438.4 711.7L434.7 715.7L431 711.7Z" fill="#0A0AE8"/>
</g>
<rect x="268.7" y="665" width="189.4" height="152.9" fill="none" stroke="#8a8a8a" stroke-width="1"/>
<line x1="268.5" y1="665" x2="268.5" y2="821.4" stroke="#666" stroke-width="1"/>
<line x1="270.1" y1="665" x2="270.1" y2="821.4" stroke="#bbb" stroke-width="1.6"/>
<line x1="268.7" y1="817.9" x2="458.1" y2="817.9" stroke="#444" stroke-width="1"/>
<line x1="268.7" y1="817.9" x2="268.7" y2="820.9" stroke="#444" stroke-width="1"/>
<line x1="293" y1="817.9" x2="293" y2="819.9" stroke="#444" stroke-width="1"/>
<line x1="317.3" y1="817.9" x2="317.3" y2="820.9" stroke="#444" stroke-width="1"/>
<line x1="341.6" y1="817.9" x2="341.6" y2="819.9" stroke="#444" stroke-width="1"/>
<line x1="365.9" y1="817.9" x2="365.9" y2="820.9" stroke="#444" stroke-width="1"/>
<line x1="390.2" y1="817.9" x2="390.2" y2="819.9" stroke="#444" stroke-width="1"/>
<line x1="414.5" y1="817.9" x2="414.5" y2="820.9" stroke="#444" stroke-width="1"/>
<line x1="438.8" y1="817.9" x2="438.8" y2="819.9" stroke="#444" stroke-width="1"/>
<text transform="translate(268.7,838.1) scale(1.0,1)" font-size="16.5" text-anchor="middle" fill="#000" >0</text>
<text transform="translate(317.3,838.1) scale(1.0,1)" font-size="16.5" text-anchor="middle" fill="#000" >20</text>
<text transform="translate(365.9,838.1) scale(1.0,1)" font-size="16.5" text-anchor="middle" fill="#000" >40</text>
<text transform="translate(414.5,838.1) scale(1.0,1)" font-size="16.5" text-anchor="middle" fill="#000" >60</text>
<line x1="458.1" y1="788.5" x2="643" y2="788.5" stroke="#161616" stroke-width="1.15" stroke-dasharray="3.9 3.3" stroke-dashoffset="-1.5"/>
<line x1="458.1" y1="759.5" x2="643" y2="759.5" stroke="#161616" stroke-width="1.15" stroke-dasharray="3.9 3.3" stroke-dashoffset="-1.5"/>
<line x1="458.1" y1="730.5" x2="643" y2="730.5" stroke="#161616" stroke-width="1.15" stroke-dasharray="3.9 3.3" stroke-dashoffset="-1.5"/>
<line x1="458.1" y1="701.5" x2="643" y2="701.5" stroke="#161616" stroke-width="1.15" stroke-dasharray="3.9 3.3" stroke-dashoffset="-1.5"/>
<line x1="458.1" y1="672.5" x2="643" y2="672.5" stroke="#161616" stroke-width="1.15" stroke-dasharray="3.9 3.3" stroke-dashoffset="-1.5"/>
<rect x="458.1" y="665" width="187.9" height="152.6" fill="none" stroke="#8a8a8a" stroke-width="1"/>
<line x1="458" y1="665" x2="458" y2="821.1" stroke="#777" stroke-width="2"/>
<line x1="458.1" y1="817.6" x2="646" y2="817.6" stroke="#444" stroke-width="1"/>
<clipPath id="c12"><rect x="457.1" y="665" width="188.9" height="152.6"/></clipPath>
<g clip-path="url(#c12)">
<polyline points="458.1,674.7 539.9,672.3 624.1,672.3" fill="none" stroke="#000000" stroke-width="2.4" stroke-linejoin="round"/>
<rect x="455.3" y="671.9" width="5.6" height="5.6" fill="#000"/>
<rect x="537.1" y="669.5" width="5.6" height="5.6" fill="#000"/>
<rect x="621.3" y="669.5" width="5.6" height="5.6" fill="#000"/>
<polyline points="458.1,808.8 539.9,801.5 624.1,801.5" fill="none" stroke="#344D10" stroke-width="2.4" stroke-linejoin="round"/>
<circle cx="458.1" cy="808.8" r="2.8" fill="#344D10"/>
<circle cx="539.9" cy="801.5" r="2.8" fill="#344D10"/>
<circle cx="624.1" cy="801.5" r="2.8" fill="#344D10"/>
<polyline points="458.1,810 539.9,816.1 624.1,814" fill="none" stroke="#1EDC1E" stroke-width="2.4" stroke-linejoin="round"/>
<circle cx="458.1" cy="810" r="2.8" fill="#1EE61E"/>
<circle cx="539.9" cy="816.1" r="2.8" fill="#1EE61E"/>
<circle cx="624.1" cy="814" r="2.8" fill="#1EE61E"/>
<polyline points="458.4,685 458.6,698.9 539.9,708.6 624.1,735.3" fill="none" stroke="#CC1212" stroke-width="2.4" stroke-linejoin="round"/>
<circle cx="458.4" cy="685" r="2.8" fill="#F00A0A"/>
<circle cx="458.6" cy="698.9" r="2.8" fill="#F00A0A"/>
<circle cx="539.9" cy="708.6" r="2.8" fill="#F00A0A"/>
<circle cx="624.1" cy="735.3" r="2.8" fill="#F00A0A"/>
<polyline points="458.4,672 458.6,683.2 539.9,692 624.1,719.5" fill="none" stroke="#1212C4" stroke-width="2.4" stroke-linejoin="round"/>
<path d="M458.4 668L462.1 672L458.4 676L454.7 672Z" fill="#0A0AE8"/>
<path d="M458.6 679.2L462.3 683.2L458.6 687.2L454.9 683.2Z" fill="#0A0AE8"/>
<path d="M539.9 688L543.6 692L539.9 696L536.2 692Z" fill="#0A0AE8"/>
<path d="M624.1 715.5L627.8 719.5L624.1 723.5L620.4 719.5Z" fill="#0A0AE8"/>
</g>
<line x1="457.6" y1="817.6" x2="457.6" y2="820.6" stroke="#444" stroke-width="1"/>
<line x1="481.73" y1="817.6" x2="481.73" y2="819.6" stroke="#444" stroke-width="1"/>
<line x1="505.86" y1="817.6" x2="505.86" y2="820.6" stroke="#444" stroke-width="1"/>
<line x1="529.99" y1="817.6" x2="529.99" y2="819.6" stroke="#444" stroke-width="1"/>
<line x1="554.12" y1="817.6" x2="554.12" y2="820.6" stroke="#444" stroke-width="1"/>
<line x1="578.25" y1="817.6" x2="578.25" y2="819.6" stroke="#444" stroke-width="1"/>
<line x1="602.38" y1="817.6" x2="602.38" y2="820.6" stroke="#444" stroke-width="1"/>
<line x1="626.51" y1="817.6" x2="626.51" y2="819.6" stroke="#444" stroke-width="1"/>
<text transform="translate(457.6,838.1) scale(1.0,1)" font-size="16.5" text-anchor="middle" fill="#000" >0</text>
<text transform="translate(505.86,838.1) scale(1.0,1)" font-size="16.5" text-anchor="middle" fill="#000" >20</text>
<text transform="translate(554.12,838.1) scale(1.0,1)" font-size="16.5" text-anchor="middle" fill="#000" >40</text>
<text transform="translate(602.38,838.1) scale(1.0,1)" font-size="16.5" text-anchor="middle" fill="#000" >60</text>
<text transform="translate(19.9,127) rotate(-90)" font-size="19.6" text-anchor="middle">Conversion, yield</text>
<text transform="translate(44.9,124.9) rotate(-90)" font-size="19.6" text-anchor="middle">and C-balance / %</text>
<text transform="translate(18.1,329.9) rotate(-90)" font-size="19.6" text-anchor="middle">Conversion, yield</text>
<text transform="translate(42.9,327) rotate(-90)" font-size="19.6" text-anchor="middle">and C-balance / %</text>
<text transform="translate(19.7,536.9) rotate(-90)" font-size="19.6" text-anchor="middle">Conversion, yield</text>
<text transform="translate(44.6,534.2) rotate(-90)" font-size="19.6" text-anchor="middle">and C-balance / %</text>
<text transform="translate(15.4,742.9) rotate(-90)" font-size="19.6" text-anchor="middle">Conversion, yield</text>
<text transform="translate(40.7,740.4) rotate(-90)" font-size="19.6" text-anchor="middle">and C-balance / %</text>
<text transform="translate(269,240.5) " font-size="19.25">c (glutamic acid) / µg mL<tspan font-size="11.5" dx="0.6" dy="-5.6">-1</tspan></text>
<text transform="translate(283.6,446.5) " font-size="19.25">c (arginine) / µg mL<tspan font-size="11.5" dx="0.6" dy="-5.6">-1</tspan></text>
<text transform="translate(285.5,655.7) " font-size="19.25">c (cysteine) / µg mL<tspan font-size="11.5" dx="0.6" dy="-5.6">-1</tspan></text>
<text transform="translate(283,861) " font-size="19.25">c (cystine) / µg mL<tspan font-size="11.5" dx="0.6" dy="-5.6">-1</tspan></text>
<rect x="289.9" y="126.1" width="145.4" height="36.2" fill="url(#gbox)"/>
<text transform="translate(362,148.6) scale(1.0,1)" font-size="21" text-anchor="middle" fill="#fff" >Glutamic acid</text>
<rect x="319.5" y="274.4" width="96.4" height="35.1" fill="url(#gbox)"/>
<text transform="translate(367.7,297) scale(1.0,1)" font-size="21" text-anchor="middle" fill="#fff" >Arginine</text>
<rect x="312" y="545.8" width="100" height="36.3" fill="url(#gbox)"/>
<text transform="translate(362,568.5) scale(1.0,1)" font-size="21" text-anchor="middle" fill="#fff" >Cysteine</text>
<rect x="318" y="745.8" width="88" height="35.9" fill="url(#gbox)"/>
<text transform="translate(362,768.3) scale(1.0,1)" font-size="21" text-anchor="middle" fill="#fff" >Cystine</text>
<rect x="117.3" y="75.6" width="124.2" height="106.6" fill="#fff" stroke="#555" stroke-width="1"/>
<line x1="117.3" y1="86.0" x2="157.8" y2="86.0" stroke="#000000" stroke-width="4"/>
<rect x="132" y="80.4" width="11.2" height="11.2" fill="#000"/>
<text transform="translate(162,92.8) scale(1.0,1)" font-size="16.7" text-anchor="start" fill="#000" letter-spacing="0.25">X(HMF)</text>
<line x1="117.3" y1="106.9" x2="157.8" y2="106.9" stroke="#33480E" stroke-width="4"/>
<circle cx="137.6" cy="106.9" r="6.1" fill="#33480E"/>
<text transform="translate(162,113.7) scale(1.0,1)" font-size="16.7" text-anchor="start" fill="#000" letter-spacing="0.25">Y(HFCA)</text>
<line x1="117.3" y1="127.9" x2="157.8" y2="127.9" stroke="#12EE12" stroke-width="4"/>
<circle cx="137.6" cy="127.9" r="6.1" fill="#12EE12"/>
<text transform="translate(162,134.7) scale(1.0,1)" font-size="16.7" text-anchor="start" fill="#000" letter-spacing="0.25">Y(FFCA)</text>
<line x1="117.3" y1="148.9" x2="157.8" y2="148.9" stroke="#F20A0A" stroke-width="4"/>
<circle cx="137.6" cy="148.9" r="6.1" fill="#F20A0A"/>
<text transform="translate(162,155.7) scale(1.0,1)" font-size="16.7" text-anchor="start" fill="#000" letter-spacing="0.25">Y(FDCA)</text>
<line x1="117.3" y1="169.6" x2="157.8" y2="169.6" stroke="#0A0AE2" stroke-width="4"/>
<path d="M137.6 162.0L143.6 169.6L137.6 177.2L131.6 169.6Z" fill="#0A0AE2"/>
<text transform="translate(162,176.4) scale(1.0,1)" font-size="16.7" text-anchor="start" fill="#000" letter-spacing="0.25">C-balance</text>
</svg>
</body></html>
